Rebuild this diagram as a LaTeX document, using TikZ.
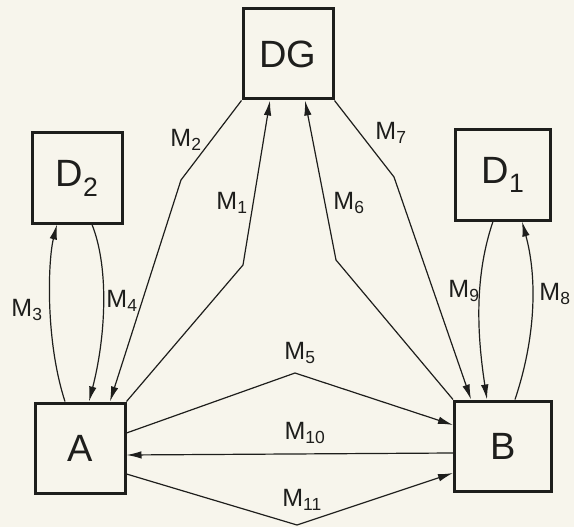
\documentclass[tikz,border=0pt]{standalone}
\usepackage{fontspec}
\setmainfont{Liberation Sans}
\usetikzlibrary{arrows.meta}
\definecolor{paper}{HTML}{F7F5EC}
\definecolor{ink}{HTML}{1E1E1C}
\begin{document}
\begin{tikzpicture}[x=1pt,y=-1pt,
  box/.style={draw=ink,line width=3pt,minimum width=#1,minimum height=90pt,inner sep=0pt,
    font=\fontsize{38}{38}\selectfont,text=ink},
  box/.default=90pt,
  msg/.style={draw=ink,line width=1.2pt,-{Latex[length=15pt,width=7.5pt]}},
  lbl/.style={font=\fontsize{25}{25}\selectfont,text=ink,inner sep=0pt}]
  % paper
  \fill[paper] (0,0) rectangle (574,527);
  \useasboundingbox (0,0) rectangle (574,527);

  % boxes
  \node[box] (DG) at (288,54) {DG};
  \node[box] (D2) at (77,178) {D\textsubscript{2}};
  \node[box=95pt] (D1) at (503,175) {D\textsubscript{1}};
  \node[box] (A) at (80,448) {A};
  \node[box=97pt] (B) at (503,446) {B};

  % bends
  \coordinate (k2) at (181,180);
  \coordinate (k1) at (243,265);
  \coordinate (k6) at (336,260);
  \coordinate (k7) at (394,177);
  \coordinate (k5) at (295,373);
  \coordinate (k11) at (297,525);

  % connectors via DG
  \draw[msg] (DG.south west) -- (k2) -- ([xshift=30pt]A.north);
  \draw[msg] (A.north east) -- (k1) -- ([xshift=-18pt]DG.south);
  \draw[msg] (B.north west) -- (k6) -- ([xshift=17pt]DG.south);
  \draw[msg] (DG.south east) -- (k7) -- ([xshift=-32pt]B.north);

  % A <-> D2
  \draw[msg] ([xshift=-15pt]A.north) .. controls (45,340) and (48,260) .. ([xshift=-20pt]D2.south);
  \draw[msg] ([xshift=15pt]D2.south) .. controls (110,270) and (105,340) .. ([xshift=9pt]A.north);

  % B <-> D1
  \draw[msg] ([xshift=-10pt]D1.south) .. controls (473,280) and (478,340) .. ([xshift=-16pt]B.north);
  \draw[msg] ([xshift=12pt]B.north) .. controls (535,340) and (538,280) .. ([xshift=19pt]D1.south);

  % A <-> B
  \draw[msg] ([yshift=15pt]A.east) -- (k5) -- ([yshift=21pt]B.west);
  \draw[msg] ([yshift=-7pt]B.west) -- ([yshift=-7pt]A.east);
  \draw[msg] ([yshift=-26pt]A.east) -- (k11) -- ([yshift=-27pt]B.west);

  % labels
  \node[lbl] (l2) at (186,140) {M\textsubscript{2}};
  \node[lbl] (l1) at (232,203) {M\textsubscript{1}};
  \node[lbl] (l3) at (27,310) {M\textsubscript{3}};
  \node[lbl] (l4) at (122,301) {M\textsubscript{4}};
  \node[lbl] (l7) at (391,133) {M\textsubscript{7}};
  \node[lbl] (l6) at (349,203) {M\textsubscript{6}};
  \node[lbl] (l9) at (464,291) {M\textsubscript{9}};
  \node[lbl] (l8) at (555,294) {M\textsubscript{8}};
  \node[lbl] (l5) at (300,353) {M\textsubscript{5}};
  \node[lbl] (l10) at (305,433) {M\textsubscript{10}};
  \node[lbl] (l11) at (302,500) {M\textsubscript{11}};
\end{tikzpicture}
\end{document}
